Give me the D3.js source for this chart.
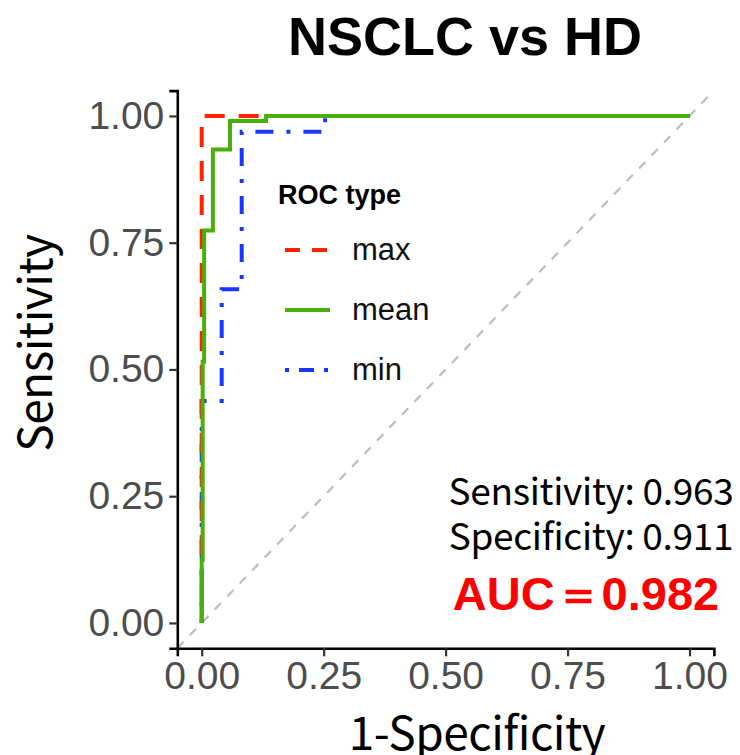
<!DOCTYPE html>
<html>
<head>
<meta charset="utf-8">
<script src="https://cdn.jsdelivr.net/npm/d3@7"></script>
<style>
  body { margin: 0; background: #fff; }
  svg { display: block; }
</style>
</head>
<body>
<svg id="plot-svg" width="740" height="755"></svg>
<script>
// ROC curves (1-specificity, sensitivity)
const rocTypes = ["max", "mean", "min"];
const rocColors = ["#ff2200", "#4cae0a", "#1a35ff"];
const rocDashes = ["20,14", null, "4,13,18,13"];

const maxFpr = [0, 0, 1];
const maxTpr = [0, 1, 1];

const meanFpr = [0, 0, 0.002, 0.002, 0.005, 0.005, 0.023, 0.023, 0.058, 0.058, 0.132, 0.132, 1];
const meanTpr = [0, 0.124, 0.124, 0.515, 0.515, 0.774, 0.774, 0.934, 0.934, 0.99, 0.99, 1, 1];

const minFpr = [0, 0, 0.041, 0.041, 0.082, 0.082, 0.253, 0.253, 1];
const minTpr = [0, 0.438, 0.438, 0.658, 0.658, 0.969, 0.969, 1, 1];

const tickValues = [0, 0.25, 0.5, 0.75, 1];
const tickLabels = ["0.00", "0.25", "0.50", "0.75", "1.00"];

const titleText = "NSCLC vs HD";
const xTitle = "1-Specificity";
const yTitle = "Sensitivity";
const statLines = ["Sensitivity: 0.963", "Specificity: 0.911"];
const aucText = "AUC\uFF1D0.982";

const svg = d3.select("#plot-svg");

const x = d3.scaleLinear().domain([-0.05, 1.05]).range([177.3, 713.9]);
const y = d3.scaleLinear().domain([-0.05, 1.05]).range([648.3, 90.6]);

// diagonal reference
svg.append("line")
    .attr("x1", x(-0.05)).attr("y1", y(-0.05))
    .attr("x2", x(1.05)).attr("y2", y(1.05))
    .attr("stroke", "#bdbdbd")
    .attr("stroke-width", 2.2)
    .attr("stroke-dasharray", "9,9");

const series = [
    {name: "min", fpr: minFpr, tpr: minTpr},
    {name: "max", fpr: maxFpr, tpr: maxTpr},
    {name: "mean", fpr: meanFpr, tpr: meanTpr}
];

const line = d3.line().x(d => x(d[0])).y(d => y(d[1]));

series.forEach(s => {
    let i = rocTypes.indexOf(s.name);
    let pts = s.fpr.map((f, j) => [f, s.tpr[j]]);
    svg.append("path")
        .datum(pts)
        .attr("d", line)
        .attr("fill", "none")
        .attr("stroke", rocColors[i])
        .attr("stroke-width", 4)
        .attr("stroke-dasharray", rocDashes[i]);
});

// axes
const xAxis = d3.axisBottom(x)
    .tickValues(tickValues)
    .tickFormat((d, i) => tickLabels[i])
    .tickSizeOuter(0)
    .tickSize(8)
    .tickPadding(5);
const yAxis = d3.axisLeft(y)
    .tickValues(tickValues)
    .tickFormat((d, i) => tickLabels[i])
    .tickSizeOuter(0)
    .tickSize(8)
    .tickPadding(5);

const gx = svg.append("g")
    .attr("transform", "translate(0," + y(-0.05) + ")")
    .call(xAxis);
const gy = svg.append("g")
    .attr("transform", "translate(" + x(-0.05) + ",0)")
    .call(yAxis);

[gx, gy].forEach(g => {
    g.select(".domain").attr("stroke", "#000").attr("stroke-width", 2.6);
    g.selectAll(".tick line").attr("stroke", "#333").attr("stroke-width", 2.2);
    g.selectAll(".tick text")
        .attr("fill", "#4d4d4d")
        .style("font-family", "'Liberation Sans', Arial, sans-serif")
        .style("font-size", "39px");
});

// titles
svg.append("text")
    .attr("x", 465).attr("y", 55)
    .attr("text-anchor", "middle")
    .style("font-family", "'Liberation Sans', Arial, sans-serif")
    .style("font-weight", "bold")
    .style("font-size", "54px")
    .text(titleText);

svg.append("text")
    .attr("x", 477).attr("y", 750)
    .attr("text-anchor", "middle")
    .style("font-family", "'Noto Sans CJK JP', sans-serif")
    .style("font-size", "46px")
    .style("letter-spacing", "-0.5px")
    .text(xTitle);

svg.append("text")
    .attr("transform", "translate(52,343) rotate(-90)")
    .attr("text-anchor", "middle")
    .style("font-family", "'Noto Sans CJK JP', sans-serif")
    .style("font-size", "46px")
    .style("letter-spacing", "-0.5px")
    .text(yTitle);

// legend
const legend = svg.append("g");
legend.append("text")
    .attr("x", 278).attr("y", 204)
    .style("font-family", "'Liberation Sans', Arial, sans-serif")
    .style("font-weight", "bold")
    .style("font-size", "27px")
    .text("ROC type");

rocTypes.forEach((t, i) => {
    let cy = 250 + i * 60;
    legend.append("line")
        .attr("x1", 285).attr("x2", 330)
        .attr("y1", cy).attr("y2", cy)
        .attr("stroke", rocColors[i])
        .attr("stroke-width", 4)
        .attr("stroke-dasharray", i === 0 ? "15,12" : (i === 2 ? "4,10,15,10" : null));
    legend.append("text")
        .attr("x", 352).attr("y", cy + 10)
        .style("font-family", "'Liberation Sans', Arial, sans-serif")
        .style("font-size", "31px")
        .attr("fill", "#111")
        .text(t);
});

// statistics annotation
statLines.forEach((s, i) => {
    svg.append("text")
        .attr("x", 591).attr("y", 505 + i * 45)
        .attr("text-anchor", "middle")
        .style("font-family", "'Noto Sans CJK JP', sans-serif")
        .style("font-size", "37px")
        .style("letter-spacing", "-0.3px")
        .text(s);
});

svg.append("text")
    .attr("x", 586).attr("y", 610)
    .attr("text-anchor", "middle")
    .attr("fill", "#ff0000")
    .style("font-family", "'Liberation Sans', Arial, sans-serif")
    .style("font-weight", "bold")
    .style("font-size", "47px")
    .text(aucText);
</script>
</body>
</html>
